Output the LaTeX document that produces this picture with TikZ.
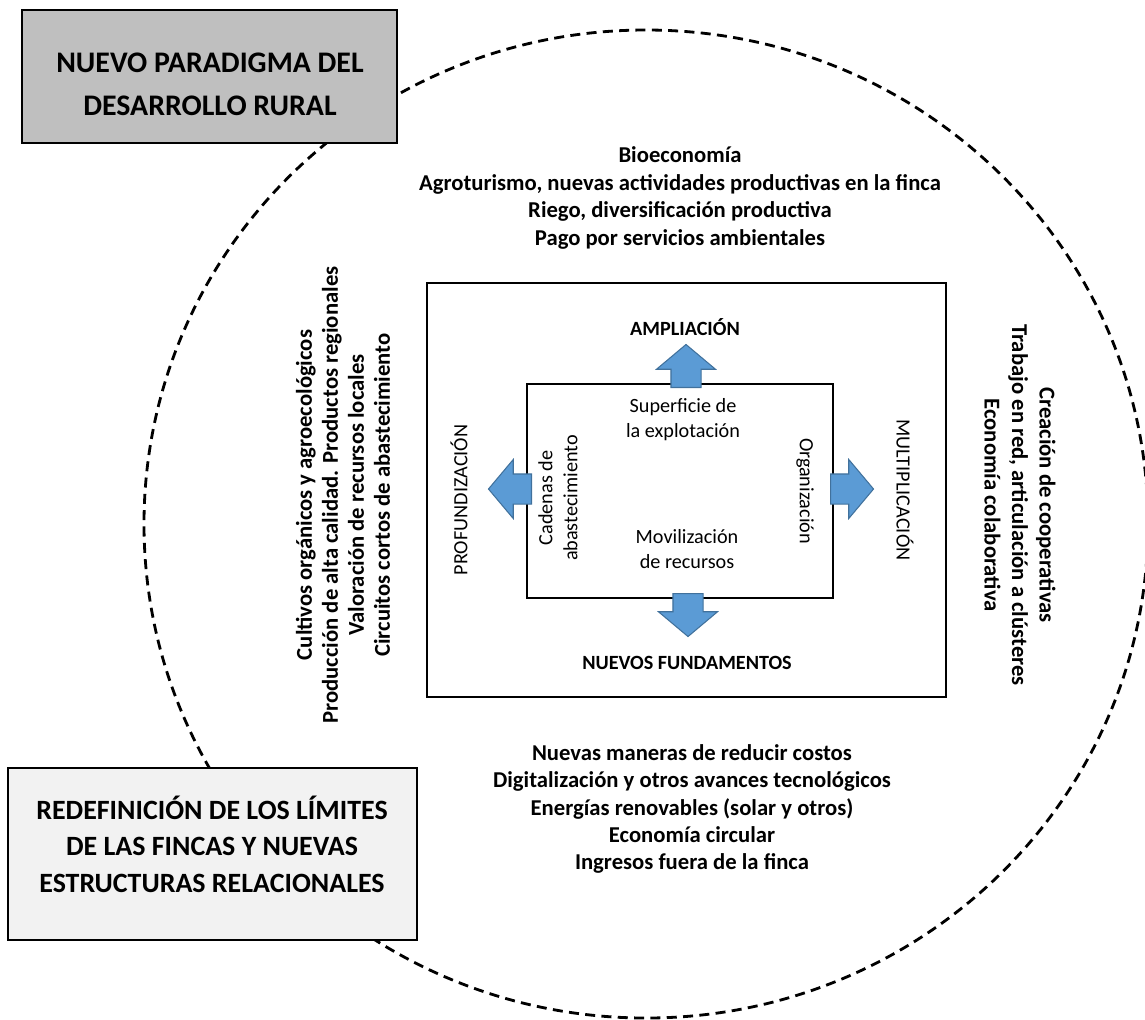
\documentclass[tikz,border=0pt]{standalone}
\usepackage{fontspec}
\setmainfont{Carlito}
\usetikzlibrary{shapes.arrows}
\definecolor{arrowblue}{RGB}{91,155,213}
\definecolor{arrowedge}{RGB}{65,113,156}
\definecolor{paradigmgray}{RGB}{191,191,191}
\definecolor{limitsgray}{RGB}{242,242,242}

\begin{document}
\begin{tikzpicture}[x=0.02cm, y=-0.02cm,
    titlebox/.style={rectangle, draw=black, line width=1.5pt},
    titletext/.style={align=center, font=\bfseries\fontsize{16}{21}\selectfont},
    frame/.style={rectangle, draw=black, line width=1.1pt},
    listtext/.style={align=center, font=\bfseries\fontsize{12.9}{15.6}\selectfont},
    innertext/.style={align=center, font=\fontsize{11.5}{14.2}\selectfont},
    innerbold/.style={innertext, font=\bfseries\fontsize{11.5}{14.2}\selectfont},
    growarrow/.style={single arrow, draw=arrowedge, fill=arrowblue, line width=0.6pt, inner xsep=0pt, inner ysep=0.29cm, minimum height=0.86cm, single arrow head extend=0.29cm, single arrow tip angle=100, anchor=tail},
    boundary/.style={draw=black, line width=1.6pt, dash pattern=on 5.7pt off 3.6pt}]

    \useasboundingbox (0,0) rectangle (1145,1019);
    \draw[boundary] (646,524) ellipse [x radius=502, y radius=494];

    \node[titlebox, fill=paradigmgray, minimum width=7.5cm, minimum height=2.66cm] (paradigm) at (209.5,76.5) {};
    \node[titletext, font=\bfseries\fontsize{17}{24.4}\selectfont] (paradigmtext) at (210,84) {NUEVO PARADIGMA DEL\\DESARROLLO RURAL};
    \node[titlebox, fill=limitsgray, minimum width=8.18cm, minimum height=3.44cm] (limits) at (212.5,854) {};
    \node[titletext, font=\bfseries\fontsize{15.9}{20.7}\selectfont] (limitstext) at (212,844) {REDEFINICIÓN DE LOS LÍMITES\\DE LAS FINCAS Y NUEVAS\\ESTRUCTURAS RELACIONALES};

    \node[frame, minimum width=10.38cm, minimum height=8.28cm] (outer) at (686.5,490) {};
    \node[frame, minimum width=6.12cm, minimum height=4.28cm] (core) at (680,491) {};

    \node[growarrow, rotate=90] (upArrow) at (686,388) {};
    \node[growarrow, rotate=-90] (downArrow) at (688,593) {};
    \node[growarrow, rotate=180] (leftArrow) at (532,489) {};
    \node[growarrow] (rightArrow) at (830,489) {};

    \node[innerbold] (ampliacion) at (685,327) {AMPLIACIÓN};
    \node[innerbold] (fundamentos) at (687,663) {NUEVOS FUNDAMENTOS};
    \node[innertext, rotate=90] (profundizacion) at (459,500) {PROFUNDIZACIÓN};
    \node[innertext, rotate=-90] (multiplicacion) at (905,490) {MULTIPLICACIÓN};
    \node[innertext] (superficie) at (683,420) {Superficie de\\la explotación};
    \node[innertext] (movilizacion) at (687,549) {Movilización\\de recursos};
    \node[innertext, rotate=90] (cadenas) at (558,498) {Cadenas de\\abastecimiento};
    \node[innertext, rotate=-90] (organizacion) at (805,491) {Organización};

    \node[listtext] (toplist) at (680,198) {Bioeconomía\\Agroturismo, nuevas actividades productivas en la finca\\Riego, diversificación productiva\\Pago por servicios ambientales};
    \node[listtext] (bottomlist) at (692,809) {Nuevas maneras de reducir costos\\Digitalización y otros avances tecnológicos\\Energías renovables (solar y otros)\\Economía circular\\Ingresos fuera de la finca};
    \node[listtext, rotate=90, font=\bfseries\fontsize{12.9}{14.8}\selectfont] (leftlist) at (343,495) {Cultivos orgánicos y agroecológicos\\Producción de alta calidad. Productos regionales\\Valoración de recursos locales\\Circuitos cortos de abastecimiento};
    \node[listtext, rotate=-90] (rightlist) at (1020,505) {Creación de cooperativas\\Trabajo en red, articulación a clústeres\\Economía colaborativa};
\end{tikzpicture}
\end{document}
